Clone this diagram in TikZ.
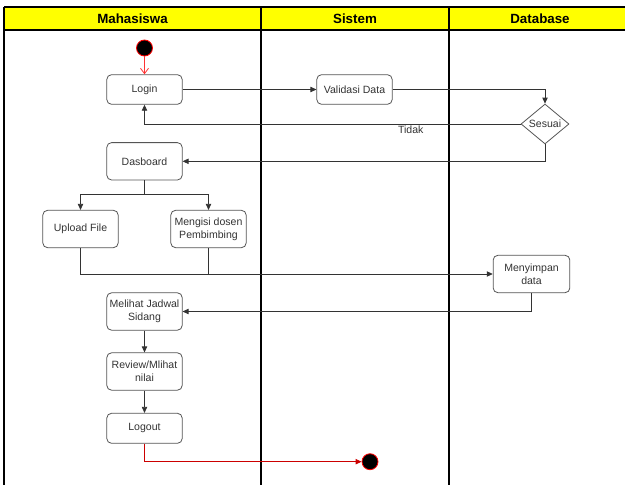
\documentclass[tikz,border=0pt]{standalone}
\usepackage{fontspec}
\setmainfont{Liberation Sans}
\usetikzlibrary{arrows.meta,shapes.geometric}
\definecolor{lane}{HTML}{FFFF00}
\definecolor{txt}{HTML}{333333}
\definecolor{edge}{HTML}{333333}
\definecolor{boxline}{HTML}{555555}
\definecolor{startred}{HTML}{FF3333}
\definecolor{endred}{HTML}{CC0000}

\begin{document}
\begin{tikzpicture}[x=0.75pt,y=-0.75pt,
    every node/.style={font=\fontsize{7.9pt}{10pt}\selectfont,text=txt},
    act/.style={draw=boxline,line width=0.6pt,rounded corners=3.5pt,fill=white,
        align=center,minimum width=56.5pt,minimum height=28pt,inner sep=1pt},
    dot/.style={circle,fill=black,draw=red,line width=0.6pt,minimum size=12pt,inner sep=0pt},
    flow/.style={draw=edge,line width=0.6pt,-{Triangle[length=4.5pt,width=4pt]}},
    lanehead/.style={font=\fontsize{10pt}{12pt}\selectfont\bfseries,text=black}]
    \useasboundingbox (0,0) rectangle (625,485);
    \clip (0,0) rectangle (625,485);
    \fill[white] (0,0) rectangle (625,485);
    \fill[lane] (4,7) rectangle (640,30);
    \draw[line width=1.3pt] (4,7) -- (640,7) (4,30) -- (640,30);
    \draw[line width=1.3pt] (4,7) -- (4,490) (261,7) -- (261,490) (449,7) -- (449,490);
    \node[lanehead] (h1) at (132.5,18.5) {Mahasiswa};
    \node[lanehead] (h2) at (355,18.5) {Sistem};
    \node[lanehead] (h3) at (540,18.5) {Database};

    \node[dot] (v0) at (144.5,48) {};
    \node[act,minimum height=22.2pt] (v1) at (144.5,89.5) {Login};
    \node[act,minimum height=22.2pt] (v2) at (354.5,89.5) {Validasi Data};
    \node[diamond,draw=boxline,line width=0.6pt,fill=white,inner sep=0pt,
        minimum width=36pt,minimum height=28pt] (v3) at (545,124) {Sesuai};
    \node[act] (v4) at (144.5,161.3) {Dasboard};
    \node[act] (v5) at (80.5,229) {Upload File};
    \node[act] (v6) at (208.5,229) {Mengisi dosen\\Pembimbing};
    \node[act,minimum width=57.5pt] (v7) at (531.5,274) {Menyimpan\\data};
    \node[act] (v8) at (144.5,311.5) {Melihat Jadwal\\Sidang};
    \node[act] (v9) at (144.5,371.5) {Review/Mlihat\\nilai};
    \node[act,minimum height=22.5pt] (v10) at (144.5,428.3) {Logout};
    \node[dot] (v11) at (370,461.7) {};
    \coordinate (c1) at (144.5,194.5);

    \draw[startred,line width=0.6pt,-{Straight Barb[length=4pt,width=6pt]}] (v0) -- (v1);
    \draw[flow] (v1) -- (v2);
    \draw[flow] (v2) -| (v3);
    \draw[flow] (v3.west) -| node[pos=0.146,fill=white,inner sep=1pt,yshift=-4.5pt] (t1) {Tidak} (v1.south);
    \draw[flow] (v3.south) |- (v4.east);
    \draw[draw=edge,line width=0.6pt] (v4.south) -- (c1);
    \draw[flow] (c1) -| (v5.north);
    \draw[flow] (c1) -| (v6.north);
    \draw[flow] (v5.south) |- (v7.west);
    \draw[draw=edge,line width=0.6pt] (v6.south) -- (v6.south |- v7.west);
    \draw[flow] (v7.south) |- (v8.east);
    \draw[flow] (v8) -- (v9);
    \draw[flow] (v9) -- (v10);
    \draw[endred,line width=0.6pt,-{Triangle[length=4.5pt,width=4pt]}] (v10.south) |- (v11.west);
\end{tikzpicture}
\end{document}
